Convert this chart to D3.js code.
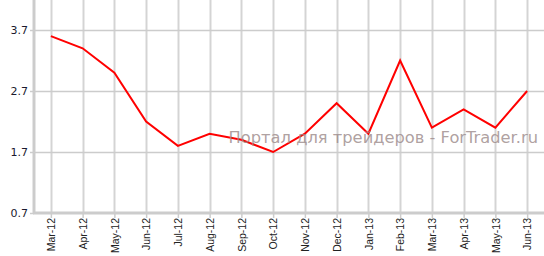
<!DOCTYPE html>
<html>
<head>
<meta charset="utf-8">
<script src="https://cdnjs.cloudflare.com/ajax/libs/d3/7.8.5/d3.min.js"></script>
<style>
  body { margin: 0; background: #fff; }
  svg { display: block; }
</style>
</head>
<body>
<div id="chart"></div>
<script>
var months = ['Mar-12', 'Apr-12', 'May-12', 'Jun-12', 'Jul-12', 'Aug-12', 'Sep-12', 'Oct-12',
	'Nov-12', 'Dec-12', 'Jan-13', 'Feb-13', 'Mar-13', 'Apr-13', 'May-13', 'Jun-13']
var values = [3.6, 3.4, 3.0, 2.2, 1.8, 2.0, 1.9, 1.7, 2.0, 2.5, 2.0, 3.2, 2.1, 2.4, 2.1, 2.7]
var yTicks = [0.7, 1.7, 2.7, 3.7]
var watermark = 'Портал для трейдеров - ForTrader.ru'

var width = 544,
	height = 256,
	margins = {top: 0, right: 0, bottom: 43, left: 34}

var svg = d3.select('#chart').append('svg')
	.attr('width', width)
	.attr('height', height)

var x = d3.scalePoint()
	.domain(months)
	.range([margins.left + 1, width - 1])
	.padding(0.5)

var y = d3.scaleLinear()
	.domain([0.7, 4.2])
	.range([height - margins.bottom, margins.top - 0.5])

// grid
svg.append('g')
	.selectAll('line.vgrid')
	.data(months)
	.enter().append('line')
	.attr('x1', function(d) { return Math.round(x(d)) + 0.5 })
	.attr('x2', function(d) { return Math.round(x(d)) + 0.5 })
	.attr('y1', 0)
	.attr('y2', y(0.7))
	.attr('stroke', '#d4d4d4')
	.attr('stroke-width', 2)

svg.append('g')
	.selectAll('line.hgrid')
	.data(yTicks.slice(1))
	.enter().append('line')
	.attr('x1', margins.left)
	.attr('x2', width)
	.attr('y1', function(d) { return Math.round(y(d)) + 0.5 })
	.attr('y2', function(d) { return Math.round(y(d)) + 0.5 })
	.attr('stroke', '#cccccc')
	.attr('stroke-width', 1.5)

// axes
var yAxis = svg.append('g')
	.attr('transform', 'translate(' + margins.left + ',0)')
	.call(d3.axisLeft(y).tickValues(yTicks).tickSize(4).tickFormat(d3.format('.1f')))
yAxis.select('.domain').attr('stroke', '#cccccc').attr('stroke-width', 3)
	.attr('d', 'M0,0V' + (y(0.7) + 1))
yAxis.selectAll('.tick line').attr('stroke', '#cccccc').attr('stroke-width', 1.5)
yAxis.selectAll('.tick text')
	.attr('fill', '#1a1a2e')
	.style('font-family', 'DejaVu Sans, Verdana, sans-serif')
	.style('font-size', '11px')
	.attr('x', -6)

var xAxis = svg.append('g')
	.attr('transform', 'translate(0,' + y(0.7) + ')')
	.call(d3.axisBottom(x).tickSize(5))
xAxis.select('.domain').attr('stroke', '#cccccc').attr('stroke-width', 3)
	.attr('d', 'M' + (margins.left - 1) + ',0H' + width)
xAxis.selectAll('.tick line').attr('stroke', '#cccccc').attr('stroke-width', 1.5)
xAxis.selectAll('.tick text')
	.attr('fill', '#222')
	.style('font-family', 'Liberation Sans, Arial, sans-serif')
	.style('font-size', '10.5px')
	.attr('text-anchor', 'end')
	.attr('transform', 'rotate(-90)')
	.attr('x', -5)
	.attr('y', 0)
	.attr('dy', '0.35em')

// line
var line = d3.line()
	.x(function(d, i) { return x(months[i]) })
	.y(function(d) { return y(d) })

svg.append('path')
	.datum(values)
	.attr('d', line)
	.attr('fill', 'none')
	.attr('stroke', '#ff0000')
	.attr('stroke-width', 2)
	.attr('stroke-linejoin', 'miter')

// watermark
svg.append('text')
	.attr('x', 538)
	.attr('y', 143)
	.attr('text-anchor', 'end')
	.attr('fill', '#9a8888')
	.attr('fill-opacity', 0.8)
	.style('font-family', 'DejaVu Sans, Verdana, sans-serif')
	.style('font-size', '16.3px')
	.text(watermark)
</script>
</body>
</html>
